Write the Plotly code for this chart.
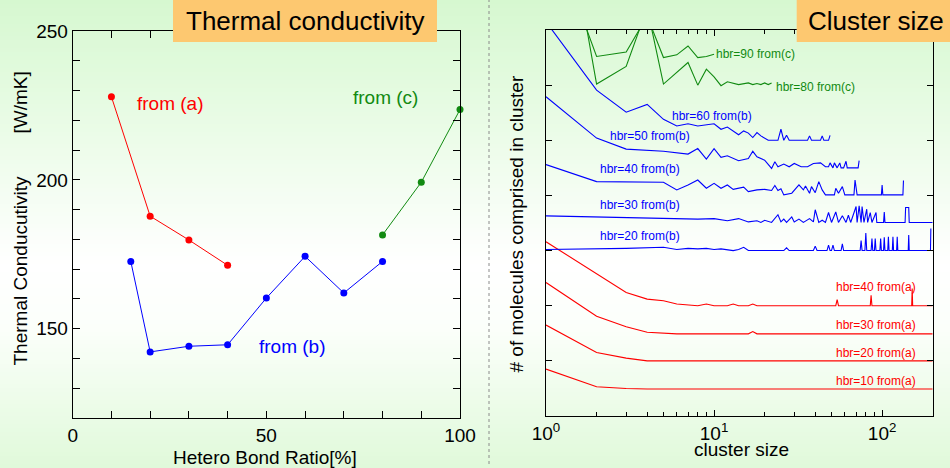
import math
import plotly.graph_objects as go

# ---------------- Left panel: thermal conductivity ----------------
ratio_a = [10, 20, 30, 40]
tc_a = [227.9, 187.8, 179.8, 171.3]
ratio_b = [15, 20, 30, 40, 50, 60, 70, 80]
tc_b = [172.6, 142.2, 144.1, 144.6, 160.3, 174.3, 162.0, 172.6]
ratio_c = [80, 90, 100]
tc_c = [181.5, 199.2, 223.6]

left_xtick_vals = [0, 50, 100]
left_xtick_text = ["0", "50", "100"]
left_xminor_vals = [10, 20, 30, 40, 60, 70, 80, 90]
left_ytick_vals = [150, 200, 250]
left_ytick_text = ["150", "200", "250"]
left_yminor_vals = [130, 140, 160, 170, 180, 190, 210, 220, 230, 240]

# ---------------- Right panel: cluster size distributions ----------------
a10_x = [1, 2, 3, 4, 200]
a10_y = [0.85, 0.53, 0.50, 0.49, 0.49]
a20_x = [1, 2, 3, 4, 200]
a20_y = [1.65, 1.15, 1.05, 1.00, 1.00]
a30_x = [1, 2, 3, 4, 6, 16, 17, 18, 200]
a30_y = [2.42, 1.81, 1.62, 1.52, 1.49, 1.49, 1.53, 1.49, 1.49]
a40_x = [1, 2, 3, 4, 5, 6, 7, 8, 9, 10,
         12, 13, 14, 16, 17, 18, 53, 54, 55, 85,
         86, 87, 150, 151, 152, 200]
a40_y = [3.16, 2.58, 2.24, 2.12, 2.09, 2.03, 2.02, 2.00, 2.03, 2.00,
         2.00, 2.03, 2.00, 2.00, 2.03, 2.00, 2.00, 2.11, 2.00, 2.00,
         2.19, 2.00, 2.00, 2.31, 2.00, 2.00]

b20_x = [1, 2, 3, 5, 6, 7, 8, 9, 10, 11,
         12, 13, 14, 15, 16, 17, 26, 27, 28, 39,
         40, 41, 47, 48, 49, 50, 51, 52, 57, 58,
         59, 74, 75, 76, 79, 80, 81, 86, 87, 88,
         90, 91, 92, 97, 98, 99, 102, 103, 104, 108,
         109, 110, 115, 116, 117, 122, 123, 124, 143, 144,
         145, 194, 195]
b20_y = [3.02, 3.03, 3.04, 3.06, 3.02, 3.04, 3.03, 3.04, 3.02, 3.03,
         3.01, 3.00, 3.02, 3.06, 3.00, 3.00, 3.00, 3.05, 3.00, 3.00,
         3.08, 3.00, 3.00, 3.10, 3.00, 3.00, 3.10, 3.00, 3.00, 3.12,
         3.00, 3.00, 3.18, 3.00, 3.00, 3.32, 3.00, 3.00, 3.22, 3.00,
         3.00, 3.22, 3.00, 3.00, 3.22, 3.00, 3.00, 3.24, 3.00, 3.00,
         3.25, 3.00, 3.00, 3.25, 3.00, 3.00, 3.25, 3.00, 3.00, 3.28,
         3.00, 3.00, 3.40]

b30_x = [1, 3, 6, 8, 10, 12, 14, 16, 18, 19,
         20, 22, 24, 25, 26, 27, 29, 30, 32, 34,
         37, 39, 40, 42, 44, 46, 48, 50, 53, 55,
         58, 61, 63, 65, 70, 71, 73, 75, 76, 78,
         81, 82, 85, 87, 92, 93, 102, 103, 104, 137,
         138, 144, 145, 200]
b30_y = [3.63, 3.60, 3.59, 3.57, 3.58, 3.54, 3.58, 3.52, 3.54, 3.51,
         3.55, 3.51, 3.65, 3.52, 3.57, 3.51, 3.61, 3.52, 3.57, 3.51,
         3.58, 3.52, 3.74, 3.51, 3.55, 3.51, 3.69, 3.51, 3.70, 3.51,
         3.63, 3.51, 3.64, 3.51, 3.80, 3.51, 3.81, 3.51, 3.80, 3.51,
         3.75, 3.51, 3.69, 3.51, 3.69, 3.51, 3.51, 3.70, 3.51, 3.51,
         3.78, 3.78, 3.51, 3.51]

b40_x = [1, 2, 5, 6, 7, 8, 9, 10, 11, 12,
         13, 15, 16, 18, 20, 22, 23, 24, 25, 26,
         29, 31, 32, 34, 35, 37, 38, 40, 42, 44,
         46, 52, 53, 55, 58, 60, 68, 69, 71, 99,
         100, 101, 133, 134]
b40_y = [4.56, 4.25, 4.24, 4.10, 4.19, 4.28, 4.13, 4.22, 4.13, 4.19,
         4.11, 4.15, 4.07, 4.10, 4.11, 4.09, 4.18, 4.09, 4.12, 4.01,
         4.04, 4.13, 4.19, 4.10, 4.17, 4.04, 4.16, 4.05, 4.25, 4.10,
         4.01, 4.01, 4.13, 4.04, 4.16, 4.01, 4.01, 4.28, 4.01, 4.01,
         4.19, 4.01, 4.01, 4.27]

b50_x = [1, 2, 3, 5, 7, 8, 9, 10, 11, 12,
         14, 16, 17, 18, 20, 22, 23, 24, 26, 28,
         30, 33, 36, 39, 43, 46, 48, 49, 51, 52,
         54, 56, 57, 59, 61, 62, 72, 73]
b50_y = [5.79, 5.04, 4.84, 4.80, 4.75, 4.85, 4.66, 4.85, 4.69, 4.72,
         4.63, 4.67, 4.80, 4.70, 4.64, 4.49, 4.61, 4.52, 4.57, 4.52,
         4.58, 4.52, 4.52, 4.58, 4.59, 4.52, 4.52, 4.59, 4.50, 4.59,
         4.50, 4.59, 4.50, 4.50, 4.62, 4.50, 4.50, 4.63]

b60_x = [1, 2, 3, 4, 5, 6, 7, 8, 10, 11,
         12, 13, 14, 15, 16, 17, 18, 19, 21, 24,
         25, 26, 27, 28, 36, 37, 38, 43, 44, 45,
         48, 49]
b60_y = [7.15, 5.91, 5.51, 5.65, 5.38, 5.26, 5.30, 5.26, 5.30, 5.20,
         5.24, 5.17, 5.10, 5.17, 5.13, 5.05, 5.14, 5.08, 5.00, 5.00,
         5.20, 5.00, 5.09, 5.00, 5.00, 5.08, 5.00, 5.00, 5.08, 5.00,
         5.00, 5.09]

c80_x = [1, 2, 3, 4, 5, 7, 8, 9, 10, 11,
         12, 13, 14, 16, 17, 18, 19, 20, 21, 22]
c80_y = [11.2, 6.02, 6.34, 7.40, 6.02, 6.41, 6.00, 6.29, 6.15, 5.99,
         6.06, 6.04, 6.01, 6.04, 6.01, 6.03, 6.01, 6.04, 6.01, 6.04]
c90_x = [1, 2, 3, 4, 5, 6, 7, 8, 9, 10]
c90_y = [9.03, 6.52, 6.60, 7.25, 6.50, 6.55, 6.71, 6.50, 6.52, 6.56]

right_xtick_vals = [1, 10, 100]
right_xtick_text = ["10<sup>0</sup>", "10<sup>1</sup>", "10<sup>2</sup>"]
right_xminor_vals = [2, 3, 4, 5, 6, 7, 8, 9, 20, 30, 40, 50, 60, 70, 80, 90, 200]
right_ytick_vals = [0, 1, 2, 3, 4, 5, 6, 7]

# ---------------- styling ----------------
W, H = 950, 468
FONT = "Liberation Sans, Arial, sans-serif"
RED, BLUE, GREEN = "#ff0000", "#0000ff", "#118a11"
ORANGE = "#fdc870"


def pxx(x):
    return x / W


def pxy(y):
    return 1 - y / H


fig = go.Figure()

for xs, ys, col in [(ratio_a, tc_a, RED), (ratio_b, tc_b, BLUE), (ratio_c, tc_c, GREEN)]:
    fig.add_trace(go.Scatter(x=xs, y=ys, mode="lines+markers",
                             line=dict(color=col, width=1),
                             marker=dict(size=7, color=col),
                             cliponaxis=False, showlegend=False,
                             xaxis="x", yaxis="y", hoverinfo="skip"))

right_series = [
    (a10_x, a10_y, RED), (a20_x, a20_y, RED), (a30_x, a30_y, RED), (a40_x, a40_y, RED),
    (b20_x, b20_y, BLUE), (b30_x, b30_y, BLUE), (b40_x, b40_y, BLUE),
    (b50_x, b50_y, BLUE), (b60_x, b60_y, BLUE),
    (c80_x, c80_y, GREEN), (c90_x, c90_y, GREEN),
]
for xs, ys, col in right_series:
    fig.add_trace(go.Scatter(x=xs, y=ys, mode="lines",
                             line=dict(color=col, width=1.1),
                             showlegend=False, xaxis="x2", yaxis="y2",
                             hoverinfo="skip"))

axis_common = dict(showline=True, linecolor="black", linewidth=1, mirror="ticks",
                   ticks="inside", tickcolor="black", tickwidth=1,
                   showgrid=False, zeroline=False, automargin=False,
                   tickfont=dict(family=FONT, size=19, color="black"))

fig.update_layout(
    template="none",
    width=W, height=H,
    autosize=False,
    showlegend=False,
    margin=dict(l=0, r=0, t=0, b=0, pad=0, autoexpand=False),
    paper_bgcolor="white",
    plot_bgcolor="rgba(0,0,0,0)",
    font=dict(family=FONT, color="black"),
    xaxis=dict(domain=[pxx(72.7), pxx(460)], range=[0, 100], anchor="y",
               tickmode="array", tickvals=left_xtick_vals, ticktext=left_xtick_text,
               ticklen=7,
               minor=dict(tickmode="array", tickvals=left_xminor_vals, ticks="inside",
                          ticklen=7, tickcolor="black", showgrid=False),
               **axis_common),
    yaxis=dict(domain=[pxy(418), pxy(31)], range=[120, 250], anchor="x",
               tickmode="array", tickvals=left_ytick_vals, ticktext=left_ytick_text,
               ticklen=7,
               minor=dict(tickmode="array", tickvals=left_yminor_vals, ticks="inside",
                          ticklen=7, tickcolor="black", showgrid=False),
               **axis_common),
    xaxis2=dict(domain=[pxx(546), pxx(932.7)], type="log", range=[0, math.log10(200)],
                anchor="y2", tickmode="array", tickvals=right_xtick_vals,
                ticktext=right_xtick_text, ticklen=6,
                minor=dict(tickmode="array", tickvals=right_xminor_vals, ticks="inside",
                           ticklen=4, tickcolor="black", showgrid=False),
                **axis_common),
    yaxis2=dict(domain=[pxy(416), pxy(30)], range=[0, 7], anchor="x2",
                tickmode="array", tickvals=right_ytick_vals, showticklabels=False,
                ticklen=6, **axis_common),
)

# background gradient (light green -> white -> light green)
stops = [(0, (214, 248, 208)), (140, (236, 252, 233)), (265, (255, 255, 255)),
         (330, (251, 255, 250)), (468, (224, 249, 218))]


def grad(y):
    for (y0, c0), (y1, c1) in zip(stops[:-1], stops[1:]):
        if y0 <= y <= y1:
            t = (y - y0) / (y1 - y0)
            return "rgb(%d,%d,%d)" % tuple(round(a + (b - a) * t) for a, b in zip(c0, c1))
    return "rgb(%d,%d,%d)" % stops[-1][1]


shapes = []
step = 4
for y in range(0, H, step):
    shapes.append(dict(type="rect", xref="paper", yref="paper", layer="below",
                       x0=0, x1=1, y0=pxy(y + step + 0.5), y1=pxy(y),
                       fillcolor=grad(y + step / 2), line=dict(width=0)))

# dotted separator
shapes.append(dict(type="line", xref="paper", yref="paper", layer="above",
                   x0=pxx(489), x1=pxx(489), y0=pxy(464), y1=pxy(0),
                   line=dict(color="#8a8a8a", width=1, dash="dot")))
# title boxes
shapes.append(dict(type="rect", xref="paper", yref="paper", layer="above",
                   x0=pxx(173), x1=pxx(437), y0=pxy(42), y1=pxy(0),
                   fillcolor=ORANGE, line=dict(width=0)))
shapes.append(dict(type="rect", xref="paper", yref="paper", layer="above",
                   x0=pxx(796.7), x1=pxx(950), y0=pxy(42), y1=pxy(0),
                   fillcolor=ORANGE, line=dict(width=0)))
fig.update_layout(shapes=shapes)


def ann(text, x, y, size, color="black", xanchor="center", angle=0):
    return dict(text=text, x=pxx(x), y=pxy(y), xref="paper", yref="paper",
                showarrow=False, xanchor=xanchor, yanchor="middle",
                textangle=angle, font=dict(family=FONT, size=size, color=color))


annotations = [
    ann("Thermal conductivity", 305, 21, 26),
    ann("Cluster size", 875.8, 21, 26),
    ann("Hetero Bond Ratio[%]", 265, 457, 19),
    ann("Thermal Conducutivity", 20, 270.5, 19, angle=-90),
    ann("[W/mK]", 20, 102.5, 19, angle=-90),
    ann("from (a)", 135, 103, 19, RED, "left"),
    ann("from (c)", 351, 97, 19, GREEN, "left"),
    ann("from (b)", 256.5, 346.5, 19, BLUE, "left"),
    ann("cluster size", 741.7, 449, 19),
    ann("# of molecules comprised in cluster", 516, 224.5, 19, angle=-90),
    ann("hbr=90 from(c)", 714, 54, 12, GREEN, "left"),
    ann("hbr=80 from(c)", 774, 87.3, 12, GREEN, "left"),
    ann("hbr=60 from(b)", 669.7, 116.3, 12, BLUE, "left"),
    ann("hbr=50 from(b)", 608.3, 135.7, 12, BLUE, "left"),
    ann("hbr=40 from(b)", 597.7, 169.3, 12, BLUE, "left"),
    ann("hbr=30 from(b)", 597.7, 205, 12, BLUE, "left"),
    ann("hbr=20 from(b)", 597.7, 235.5, 12, BLUE, "left"),
    ann("hbr=40 from(a)", 917.7, 286.7, 12, RED, "right"),
    ann("hbr=30 from(a)", 917.7, 325, 12, RED, "right"),
    ann("hbr=20 from(a)", 917.7, 352.7, 12, RED, "right"),
    ann("hbr=10 from(a)", 917.7, 381, 12, RED, "right"),
]
fig.update_layout(annotations=annotations)

fig.write_html(
    "out.html",
    config={"displayModeBar": False, "staticPlot": True},
    post_script="document.body.style.margin='0';document.body.style.padding='0';"
                "document.documentElement.style.overflow='hidden';",
)
